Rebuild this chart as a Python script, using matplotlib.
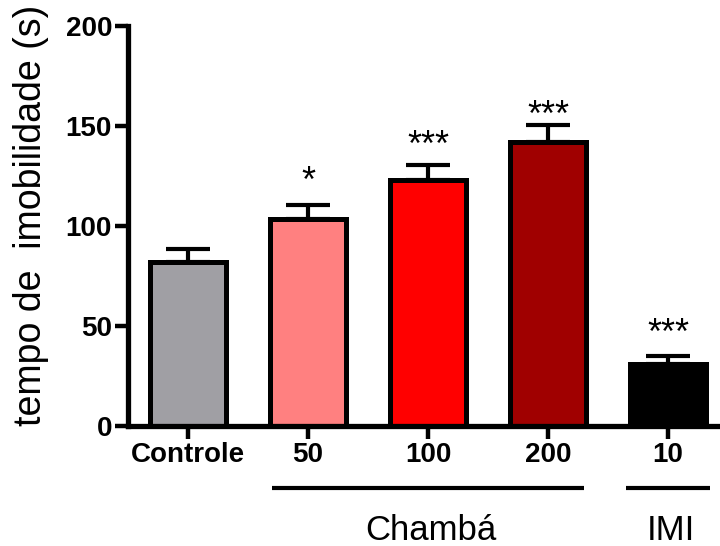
import numpy as np
import matplotlib.pyplot as plt
import matplotlib.transforms as mtransforms

plt.rcParams['font.family'] = ['Liberation Sans', 'DejaVu Sans']

# data
labels = ['Controle', '50', '100', '200', '10']
means = [82, 103.5, 123, 142, 31]
sems = [6.5, 7, 7.5, 8.5, 4]
colors = ['#A09FA4', '#FF8080', '#FF0000', '#A00000', '#000000']
stars = ['', '*', '***', '***', '***']
star_y = [0, 117, 135, 150, 41]
groups = [('Chambá', 1, 3), ('IMI', 4, 4)]

fig = plt.figure(figsize=(7.2, 5.46), dpi=100)
ax = fig.add_axes([128/720, 1 - 426/546, 1 - 128/720, 400/546])

x = np.arange(len(labels))
ax.bar(x, means, width=0.63, color=colors, edgecolor='black', linewidth=3.6, zorder=2)
ax.errorbar(x, means, yerr=[np.zeros(len(sems)), sems], fmt='none', ecolor='black',
            elinewidth=3, capsize=15.8, capthick=3, zorder=1)

for xi, s, sy in zip(x, stars, star_y):
    if s:
        ax.text(xi, sy, s, ha='center', va='baseline', fontsize=26)

ax.set_xlim(-0.5, 4.433)
ax.set_ylim(0, 200)
ax.set_yticks([0, 50, 100, 150, 200])
ax.set_xticks(x)
ax.set_xticklabels(labels, fontsize=20, fontweight='bold')
for t in ax.get_yticklabels():
    t.set_fontsize(20)
    t.set_fontweight('bold')

for side in ['top', 'right']:
    ax.spines[side].set_visible(False)
for side in ['left', 'bottom']:
    ax.spines[side].set_linewidth(3.8)
ax.tick_params(axis='both', direction='out', length=9.5, width=3.2, pad=2)

# group underlines and names below the axis
trans = mtransforms.blended_transform_factory(ax.transData, ax.transAxes)
for name, i0, i1 in groups:
    ax.plot([i0 - 0.3 - 0.05 * (i0 == i1), i1 + 0.3 + 0.05 * (i0 == i1)], [-0.155, -0.155],
            color='black', lw=3, transform=trans, clip_on=False, solid_capstyle='butt')
    ax.text((i0 + i1) / 2 + 0.02, -0.285, name, transform=trans, ha='center',
            va='baseline', fontsize=25)

fig.text(31/720, 1 - 215/546, 'tempo de  imobilidade (s)', rotation=90,
         ha='center', va='center', fontsize=27)

fig.savefig('out.png', dpi=100)
